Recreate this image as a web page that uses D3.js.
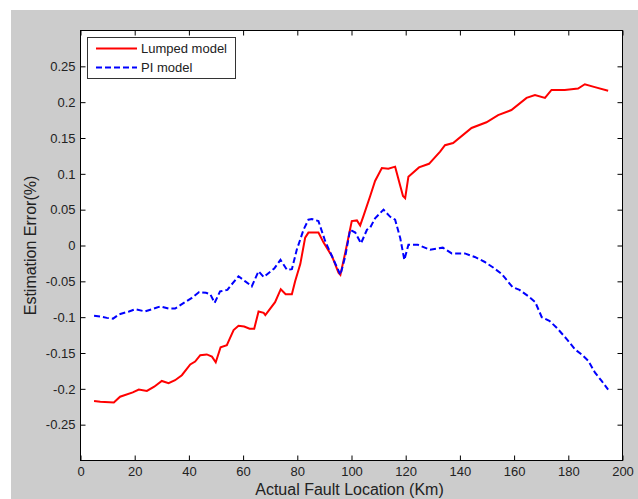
<!DOCTYPE html>
<html>
<head>
<meta charset="utf-8">
<script src="https://cdn.jsdelivr.net/npm/d3@7"></script>
<style>
  html, body { margin: 0; padding: 0; background: #fff; }
  svg { display: block; font-family: "Liberation Sans", Arial, sans-serif; }
  .tick text { fill: #222; font-size: 13px; }
  .tick line { stroke: #000; }
</style>
</head>
<body>
<div id="chart"></div>
<script>
// Lumped model curve (km, error %)
const lumpedKm = [5, 7.3, 12.3, 14.6, 19.3, 21.5, 24.5, 27.2, 30, 32.5, 34.9, 37.4, 40.5, 42.3, 44.2, 46.6, 48.5, 49.9,
  51.7, 54, 55.2, 56.5, 58.3, 60.4, 62.4, 64.1, 65.7, 67.6, 68.2, 71.8, 73.9, 75.7, 78, 79.2, 81.1, 82.9, 84.1, 87.8,
  89.7, 92.8, 95.2, 95.9, 97.7, 100.1, 102, 103.2, 104.4, 106.9, 108.7, 111.2, 113.6, 116.1, 118, 119, 119.8, 121,
  124.9, 128.6, 132.7, 134.5, 137.5, 144.3, 149.8, 154.1, 159, 164.6, 167.7, 171.4, 173.8, 178.7, 183.6, 186.1, 189.8, 194.7];
const lumpedErr = [-0.217, -0.218, -0.219, -0.211, -0.205, -0.201, -0.203, -0.197, -0.189, -0.192, -0.188, -0.181, -0.166,
  -0.162, -0.153, -0.152, -0.155, -0.163, -0.142, -0.139, -0.129, -0.118, -0.112, -0.113, -0.116, -0.116, -0.092, -0.094,
  -0.097, -0.079, -0.061, -0.068, -0.068, -0.050, -0.026, 0.011, 0.018, 0.018, 0.004, -0.015, -0.038, -0.041, -0.010,
  0.034, 0.035, 0.028, 0.041, 0.069, 0.090, 0.108, 0.107, 0.110, 0.083, 0.069, 0.066, 0.096, 0.109, 0.114, 0.131, 0.140,
  0.143, 0.164, 0.172, 0.182, 0.189, 0.206, 0.210, 0.206, 0.217, 0.217, 0.219, 0.225, 0.221, 0.216];

// PI model curve (km, error %)
const piKm = [5, 7.3, 9.7, 12, 14.3, 17.9, 20.2, 23.8, 26.3, 29.4, 32.5, 34.9, 38.6, 41.1, 43.8, 46.3, 47.9, 49.5, 51.5,
  54.2, 55.2, 58.3, 60.8, 63.2, 65.7, 67.6, 71.5, 73.8, 76.2, 78, 79.8, 82.3, 84.1, 85.4, 87.8, 90.3, 92.8, 95.9, 97.7,
  99.5, 101.4, 103.5, 105.7, 106.9, 108.7, 111.8, 114.3, 116.1, 118, 119.5, 121, 124.5, 129, 133.7, 137, 141.8, 145.5,
  149.2, 152.4, 155.5, 159.4, 162, 165.3, 167.8, 170.2, 173, 175.8, 179.5, 182.5, 185.2, 187.4, 189.8, 192.3, 194.7];
const piErr = [-0.098, -0.099, -0.101, -0.102, -0.096, -0.092, -0.089, -0.092, -0.089, -0.085, -0.088, -0.088, -0.079,
  -0.073, -0.065, -0.066, -0.068, -0.080, -0.064, -0.062, -0.057, -0.043, -0.050, -0.057, -0.036, -0.044, -0.032, -0.020,
  -0.034, -0.033, -0.006, 0.022, 0.036, 0.037, 0.034, 0.006, -0.015, -0.041, -0.015, 0.022, 0.018, 0.003, 0.022, 0.025,
  0.038, 0.050, 0.040, 0.036, 0.010, -0.020, 0.001, 0.001, -0.006, -0.003, -0.011, -0.011, -0.016, -0.023, -0.031,
  -0.040, -0.058, -0.062, -0.071, -0.079, -0.100, -0.105, -0.115, -0.131, -0.145, -0.153, -0.161, -0.177, -0.189, -0.201];

const xTicks = [0, 20, 40, 60, 80, 100, 120, 140, 160, 180, 200];
const yTicks = [-0.25, -0.2, -0.15, -0.1, -0.05, 0, 0.05, 0.1, 0.15, 0.2, 0.25];
const seriesNames = ["Lumped model", "PI model"];

const W = 638, H = 499;
const plot = { left: 80.5, right: 622.5, top: 30.5, bottom: 460.5 };

const svg = d3.select("#chart").append("svg")
  .attr("width", W)
  .attr("height", H);

// grey figure background
svg.append("rect")
  .attr("x", 11).attr("y", 10)
  .attr("width", W - 11).attr("height", H - 10)
  .attr("fill", "#cccccc");

svg.append("rect")
  .attr("x", plot.left).attr("y", plot.top)
  .attr("width", plot.right - plot.left).attr("height", plot.bottom - plot.top)
  .attr("fill", "#fff");

const x = d3.scaleLinear().domain([0, 200]).range([plot.left, plot.right]);
const y = d3.scaleLinear().domain([-0.3, 0.3]).range([plot.bottom, plot.top]);

const fmt = d => String(+d.toFixed(2));

// axes, ticks pointing inward like MATLAB
const axBottom = svg.append("g")
  .attr("transform", `translate(0,${plot.bottom})`)
  .call(d3.axisBottom(x).tickValues(xTicks).tickSize(-5).tickPadding(6).tickFormat(fmt));
const axLeft = svg.append("g")
  .attr("transform", `translate(${plot.left},0)`)
  .call(d3.axisLeft(y).tickValues(yTicks).tickSize(-5).tickPadding(5).tickFormat(fmt));
const axTop = svg.append("g")
  .attr("transform", `translate(0,${plot.top})`)
  .call(d3.axisTop(x).tickValues(xTicks).tickSize(-5).tickFormat(""));
const axRight = svg.append("g")
  .attr("transform", `translate(${plot.right},0)`)
  .call(d3.axisRight(y).tickValues(yTicks).tickSize(-5).tickFormat(""));

[axBottom, axLeft, axTop, axRight].forEach(g => g.select(".domain").remove());
svg.selectAll(".tick text").attr("font-family", null).attr("font-size", null);

svg.append("rect")
  .attr("x", plot.left).attr("y", plot.top)
  .attr("width", plot.right - plot.left).attr("height", plot.bottom - plot.top)
  .attr("fill", "none")
  .attr("stroke", "#000");

// curves
const line = d3.line().x(d => x(d[0])).y(d => y(d[1]));
const lumped = lumpedKm.map((k, i) => [k, lumpedErr[i]]);
const pi = piKm.map((k, i) => [k, piErr[i]]);

svg.append("path")
  .datum(lumped)
  .attr("d", line)
  .attr("fill", "none")
  .attr("stroke", "#ff0000")
  .attr("stroke-width", 2);

svg.append("path")
  .datum(pi)
  .attr("d", line)
  .attr("fill", "none")
  .attr("stroke", "#0000ff")
  .attr("stroke-width", 2)
  .attr("stroke-dasharray", "6,3");

// axis labels
svg.append("text")
  .attr("x", (plot.left + plot.right) / 2 - 2)
  .attr("y", 495)
  .attr("text-anchor", "middle")
  .attr("font-size", "16px")
  .attr("fill", "#222")
  .text("Actual Fault Location (Km)");

svg.append("text")
  .attr("transform", `translate(36,${(plot.top + plot.bottom) / 2}) rotate(-90)`)
  .attr("text-anchor", "middle")
  .attr("font-size", "16px")
  .attr("fill", "#222")
  .text("Estimation Error(%)");

// legend
const legend = svg.append("g");
legend.append("rect")
  .attr("x", 87.5).attr("y", 37.5)
  .attr("width", 148).attr("height", 41)
  .attr("fill", "#fff")
  .attr("stroke", "#333");

const styles = [{ color: "#ff0000", dash: null }, { color: "#0000ff", dash: "6,3" }];
seriesNames.forEach((name, i) => {
  const ly = 48.5 + i * 19;
  legend.append("line")
    .attr("x1", 96).attr("x2", 137)
    .attr("y1", ly).attr("y2", ly)
    .attr("stroke", styles[i].color)
    .attr("stroke-width", 2)
    .attr("stroke-dasharray", styles[i].dash);
  legend.append("text")
    .attr("x", 141)
    .attr("y", ly + 4.5)
    .attr("font-size", "13px")
    .attr("fill", "#222")
    .text(name);
});
</script>
</body>
</html>
